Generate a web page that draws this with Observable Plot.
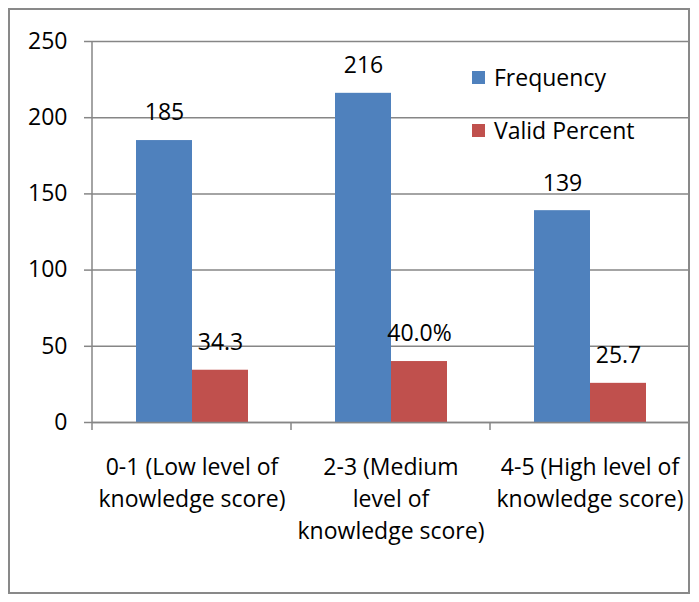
<!DOCTYPE html>
<html>
<head>
<meta charset="utf-8">
<script src="https://cdn.jsdelivr.net/npm/d3@7"></script>
<script src="https://cdn.jsdelivr.net/npm/@observablehq/plot@0.6"></script>
<style>
  html, body { margin: 0; padding: 0; background: #fff; }
  #wrap { position: relative; width: 699px; height: 602px; font-family: "Open Sans", sans-serif; }
  #border { position: absolute; left: 8px; top: 8px; width: 682px; height: 586px; box-sizing: border-box; border: 2px solid #898989; pointer-events: none; }
  #chart { position: absolute; left: 0; top: 0; }
  .legend { position: absolute; left: 472px; font-size: 23px; color: #000; line-height: 1; }
  .legend .item { position: absolute; left: 0; white-space: nowrap; display: flex; align-items: center; }
  .legend .sw { width: 13px; height: 13px; margin-right: 9px; display: inline-block; }
</style>
</head>
<body>
<div id="wrap">
  <div id="chart"></div>
  <div id="border"></div>
  <div class="legend" id="legend"></div>
</div>
<script>
// ---- data ----
const categories = [
  "0-1 (Low level of\nknowledge score)",
  "2-3 (Medium\nlevel of\nknowledge score)",
  "4-5 (High level of\nknowledge score)"
];
const series = ["Frequency", "Valid Percent"];
const frequency = [185, 216, 139];
const validPercent = [34.3, 40.0, 25.7];
const frequencyLabels = ["185", "216", "139"];
const validPercentLabels = ["34.3", "40.0%", "25.7"];
const yTicks = [0, 50, 100, 150, 200, 250];
const colors = ["#4F81BD", "#C0504D"];

const data = categories.flatMap((c, i) => [
  {category: c, series: series[0], value: frequency[i], label: frequencyLabels[i]},
  {category: c, series: series[1], value: validPercent[i], label: validPercentLabels[i]}
]);

const gridColor = "#868686";

const chart = Plot.plot({
  width: 699,
  height: 602,
  marginLeft: 91,
  marginRight: 10,
  marginTop: 41,
  marginBottom: 180,
  style: {fontFamily: "Open Sans, sans-serif", fontSize: "23px", color: "#000", background: "transparent", overflow: "visible"},
  fx: {domain: categories, padding: 0, label: null},
  x: {domain: series, paddingInner: 0, paddingOuter: 0.765, axis: null},
  y: {domain: [0, 250], label: null},
  color: {domain: series, range: colors},
  marks: [
    Plot.gridY(yTicks, {stroke: gridColor, strokeOpacity: 1, strokeWidth: 1.5}),
    Plot.axisY(yTicks, {tickSize: 8, tickPadding: 17, label: null, stroke: gridColor, strokeWidth: 1.5, fontSize: 23, fill: "#000"}),
    Plot.axisFx({anchor: "bottom", tickSize: 0, tickPadding: 29, lineHeight: 1.41, label: null, fontSize: 23, fill: "#000"}),
    Plot.barY(data, {fx: "category", x: "series", y: "value", fill: "series"}),
    Plot.ruleY([0], {stroke: gridColor, strokeWidth: 1.5}),
    Plot.text(data, {fx: "category", x: "series", y: "value", text: "label", dy: -27.5, fontSize: 23, fill: "#000"})
  ]
});

document.getElementById("chart").appendChild(chart);

// axis line on the left and category boundary ticks, positioned from Plot's scales
const fxS = chart.scale("fx");
const yS = chart.scale("y");
const svg = d3.select(chart);
const g = svg.append("g").attr("stroke", gridColor).attr("stroke-width", 1.5);
const x0 = fxS.apply(categories[0]);
const yTop = yS.apply(d3.max(yTicks));
const yBottom = yS.apply(0);
g.append("line").attr("x1", x0).attr("x2", x0).attr("y1", yTop).attr("y2", yBottom);
const bounds = categories.map(c => fxS.apply(c)).concat([fxS.apply(categories[categories.length - 1]) + fxS.bandwidth]);
bounds.forEach(b => {
  g.append("line").attr("x1", b).attr("x2", b).attr("y1", yBottom).attr("y2", yBottom + 8);
});

// legend
const legend = document.getElementById("legend");
series.forEach((s, i) => {
  const item = document.createElement("div");
  item.className = "item";
  item.style.top = (i === 0 ? 66 : 119) + "px";
  item.innerHTML = `<span class="sw" style="background:${colors[i]}"></span><span>${s}</span>`;
  legend.appendChild(item);
});
</script>
</body>
</html>
